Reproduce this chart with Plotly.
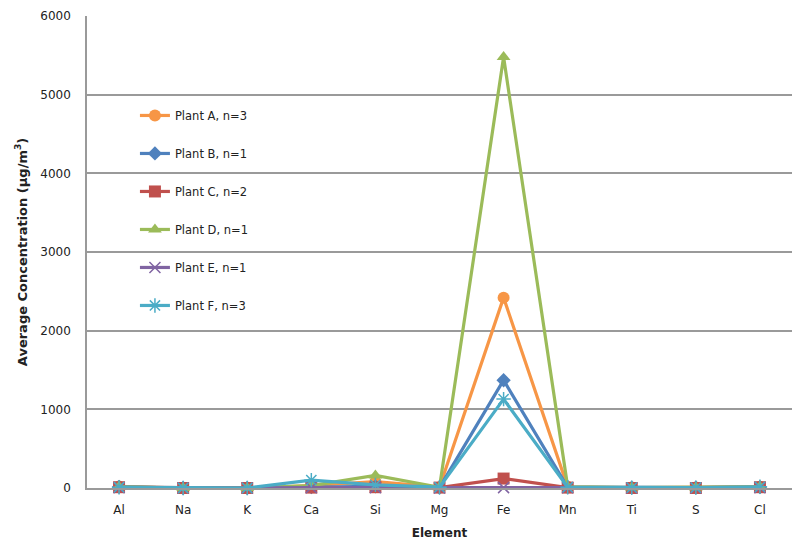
import plotly.graph_objects as go

# Element categories on the x axis
elements = ['Al', 'Na', 'K', 'Ca', 'Si', 'Mg', 'Fe', 'Mn', 'Ti', 'S', 'Cl']

# Average concentrations (ug/m3)
plant_a = [20, 0, 0, 30, 80, 10, 2420, 15, 5, 5, 15]
plant_b = [15, 0, 0, 10, 20, 5, 1370, 10, 5, 5, 10]
plant_c = [10, 0, 0, 5, 10, 5, 120, 5, 0, 0, 10]
plant_d = [15, 0, 0, 30, 160, 10, 5480, 15, 5, 5, 15]
plant_e = [5, 0, 0, 5, 5, 0, 5, 5, 0, 0, 5]
plant_f = [10, 0, 0, 100, 40, 10, 1130, 10, 5, 5, 15]

names = ['Plant A, n=3', 'Plant B, n=1', 'Plant C, n=2',
         'Plant D, n=1', 'Plant E, n=1', 'Plant F, n=3']
series = [plant_a, plant_b, plant_c, plant_d, plant_e, plant_f]
colors = ['#F79646', '#4F81BD', '#C0504D', '#9BBB59', '#8064A2', '#4BACC6']
symbols = ['circle', 'diamond', 'square', 'triangle-up', 'x-thin', 'asterisk']
sizes = [12, 11, 12, 12, 11, 12]

fig = go.Figure()
for i, (name, vals) in enumerate(zip(names, series)):
    sym = symbols[i]
    marker = dict(symbol=sym, size=sizes[i], color=colors[i])
    if sym.endswith('thin') or sym == 'asterisk':
        marker['line'] = dict(color=colors[i], width=1.5)
    else:
        marker['line'] = dict(width=0)
    fig.add_trace(go.Scatter(
        x=elements, y=vals, name=name, mode='lines+markers',
        line=dict(color=colors[i], width=3.2), marker=marker,
        legendgroup=f'g{i}', cliponaxis=False))

fig.update_layout(
    width=794, height=544,
    margin=dict(l=87, r=2, t=16, b=56),
    paper_bgcolor='white', plot_bgcolor='white',
    font=dict(family='DejaVu Sans', size=11, color='#222222'),
    legend=dict(x=0.068, y=0.820, xanchor='left', yanchor='top',
                bgcolor='rgba(0,0,0,0)', traceorder='grouped',
                tracegroupgap=19, font=dict(size=11.5, color='#222222')),
    xaxis=dict(range=[-0.5, 10.5], showgrid=False, showline=True,
               linecolor='#9a9a9a', linewidth=1.5, ticks='',
               zeroline=False, automargin=False, ticklabelstandoff=10,
               title=dict(text='<b>Element</b>', standoff=12,
                          font=dict(size=12, color='#222222')),
               tickfont=dict(size=12, color='#222222')),
    yaxis=dict(range=[0, 6000], dtick=1000, showgrid=True,
               gridcolor='#9a9a9a', gridwidth=1.5, showline=True,
               linecolor='#9a9a9a', linewidth=1.5, zeroline=False,
               ticks='', automargin=False, ticklabelstandoff=12,
               tickfont=dict(size=12, color='#222222'),
               title=dict(text='<b>Average Concentration (µg/m<sup>3</sup>)</b>',
                          standoff=10, font=dict(size=13, color='#222222'))),
)

# page body has an 8px default margin; drop it so the figure sits at 0,0
fig.write_html("out.html", config={'displayModeBar': False},
               post_script="document.body.style.margin='0';")
